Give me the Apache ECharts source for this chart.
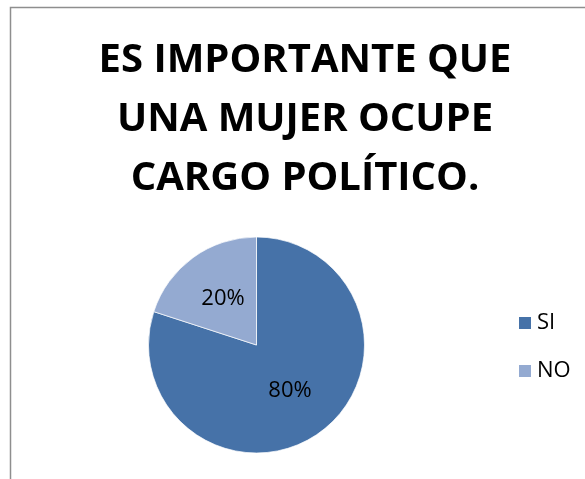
<!DOCTYPE html>
<html>
<head>
<meta charset="utf-8">
<script src="https://cdn.jsdelivr.net/npm/echarts@6/dist/echarts.min.js"></script>
<style>
html,body{margin:0;padding:0;background:#fff;}
#chart{width:585px;height:479px;}
</style>
</head>
<body>
<div id="chart"></div>
<script>
const titleLines = ["ES IMPORTANTE QUE", "UNA MUJER OCUPE", "CARGO POLÍTICO."];
const categories = ["SI", "NO"];
const values = [80, 20];
const colors = ["#4672A8", "#94AAD1"];

const chart = echarts.init(document.getElementById('chart'));
chart.setOption({
  animation: false,
  backgroundColor: '#fff',
  title: {
    text: titleLines.join('\n'),
    left: 305,
    textAlign: 'center',
    top: 31,
    padding: 0,
    textStyle: {
      fontFamily: 'Open Sans',
      fontWeight: 'bold',
      fontSize: 40,
      lineHeight: 59,
      color: '#000'
    }
  },
  graphic: [{
    type: 'rect',
    shape: { x: 10.5, y: 7.5, width: 700, height: 600 },
    style: { fill: 'none', stroke: '#8e8e8e', lineWidth: 1.5 },
    silent: true
  }],
  legend: {
    orient: 'vertical',
    left: 517,
    top: 312,
    padding: 0,
    itemWidth: 14,
    itemHeight: 14,
    itemGap: 26,
    icon: 'rect',
    data: categories,
    textStyle: { fontFamily: 'Open Sans', fontSize: 22, color: '#000' }
  },
  series: [{
    type: 'pie',
    center: [256.5, 345],
    radius: [0, 108],
    startAngle: 90,
    clockwise: true,
    label: {
      show: true,
      position: 'inside',
      formatter: '{d}%',
      fontFamily: 'Open Sans',
      fontSize: 22,
      color: '#000'
    },
    labelLine: { show: false },
    itemStyle: { borderColor: '#fff', borderWidth: 0.7 },
    emphasis: { disabled: true },
    data: categories.map((c, i) => ({ name: c, value: values[i], itemStyle: { color: colors[i] } }))
  }]
});
</script>
</body>
</html>
